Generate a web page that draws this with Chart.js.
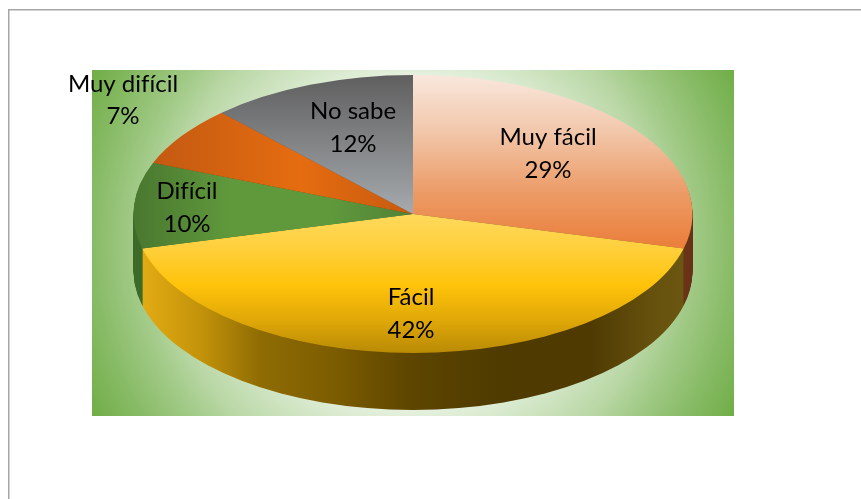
<!DOCTYPE html>
<html><head><meta charset="utf-8">
<style>html,body{margin:0;padding:0;background:#fff}canvas{display:block}</style>
<script src="https://cdn.jsdelivr.net/npm/chart.js@4"></script>
</head><body>
<canvas id="c" width="861" height="499"></canvas>
<script>
const categories = ['Muy fácil', 'Fácil', 'Difícil', 'Muy difícil', 'No sabe'];
const percentages = [29, 42, 10, 7, 12];
const percentLabels = ['29%', '42%', '10%', '7%', '12%'];

const CX = 413, CY = 214, RX = 279.5, RY = 139, DEPTH = 57, K = RY / RX;
const canvas = document.getElementById('c');
const g = canvas.getContext('2d');
const ly = y => CY + (y - CY) / K;
function vGrad(y0, y1, stops) {
  const gr = g.createLinearGradient(0, ly(y0), 0, ly(y1));
  stops.forEach(s => gr.addColorStop((s[0] - y0) / (y1 - y0), s[1]));
  return gr;
}
function hGrad(x0, x1, stops) {
  const gr = g.createLinearGradient(x0, 0, x1, 0);
  stops.forEach(s => gr.addColorStop((s[0] - x0) / (x1 - x0), s[1]));
  return gr;
}
const topFills = [
  vGrad(75, 245, [[75,'#F9E7DD'],[130,'#F2C8AC'],[190,'#EC9D69'],[245,'#EB7F3C']]),
  vGrad(215, 353, [[215,'#FFD95C'],[250,'#FFCF3A'],[285,'#FFC30A'],[320,'#E0A808'],[353,'#B98A05']]),
  hGrad(133, 413, [[133,'#49772F'],[230,'#60993C'],[330,'#60993C'],[413,'#4F8135']]),
  hGrad(158, 413, [[158,'#C45A12'],[300,'#E56C10'],[413,'#C75A10']]),
  vGrad(75, 214, [[75,'#5F5F5F'],[214,'#A6AAAE']])
];
const wallFills = [
  '#6A3419',
  hGrad(141, 683, [[141,'#E3AC14'],[200,'#C4930A'],[260,'#8F6C03'],[340,'#7A5B00'],[410,'#5E4500'],[500,'#4F3B00'],[590,'#4F3B02'],[650,'#65500D'],[683,'#6B5711']]),
  '#3E6B2A', '#8A3F0A', '#555555'
];
const labelSpots = [
  {x:548,y1:145,y2:178},{x:411,y1:305,y2:338},{x:187,y1:199,y2:232},{x:123,y1:92,y2:124},{x:353,y1:119,y2:152}
];

const backdrop = {
  id:'backdrop',
  beforeDraw(chart){
    const c = chart.ctx;
    c.save();
    c.strokeStyle = '#A6A6A6'; c.lineWidth = 1.5;
    c.strokeRect(8.75, 9.75, 1000, 1000);
    const x=92,y=70,w=642,h=346, mx=x+w/2, my=y+h/2, R=Math.hypot(w,h)/2;
    const gr = c.createRadialGradient(mx,my,0,mx,my,R);
    gr.addColorStop(0,'#FFFFFF'); gr.addColorStop(0.33,'#FFFFFF'); gr.addColorStop(0.47,'#E2EFDA');
    gr.addColorStop(0.68,'#B9D7A5'); gr.addColorStop(0.76,'#A3CB89'); gr.addColorStop(0.88,'#88BB66');
    gr.addColorStop(1,'#70AD47');
    c.fillStyle = gr; c.fillRect(x,y,w,h);
    c.restore();
  }
};
const squash = {
  id:'squash',
  beforeDatasetsDraw(chart){
    const c = chart.ctx, els = chart.getDatasetMeta(0).data;
    c.save();
    c.translate(0, CY); c.scale(1, K); c.translate(0, -CY);
    for (let d = DEPTH; d >= 1; d--) {
      c.save(); c.translate(0, d / K);
      els.forEach((el, i) => {
        const ghost = Object.create(el);
        ghost.options = Object.assign({}, el.options, {backgroundColor: wallFills[i], borderWidth:0});
        ghost.draw(c);
      });
      c.restore();
    }
  },
  afterDatasetsDraw(chart){ chart.ctx.restore(); }
};
const sliceLabels = {
  id:'sliceLabels',
  afterDraw(chart){
    const c = chart.ctx;
    c.save();
    c.font = '24px Lato'; c.fillStyle = '#000'; c.textAlign = 'center'; c.textBaseline = 'alphabetic';
    c.textRendering = 'optimizeSpeed';
    labelSpots.forEach((p, i) => {
      c.fillText(categories[i], p.x, p.y1);
      c.fillText(percentLabels[i], p.x, p.y2);
    });
    c.restore();
  }
};
new Chart(canvas, {
  type:'pie',
  data:{labels:categories, datasets:[{data:percentages, backgroundColor:topFills, borderWidth:0, radius:RX, clip:false}]},
  options:{
    responsive:false, animation:false, events:[],
    layout:{padding:{left:0,top:0,right:861-2*CX,bottom:499-2*CY}},
    plugins:{legend:{display:false},tooltip:{enabled:false},title:{display:false}}
  },
  plugins:[backdrop, squash, sliceLabels]
});
</script>
</body></html>
